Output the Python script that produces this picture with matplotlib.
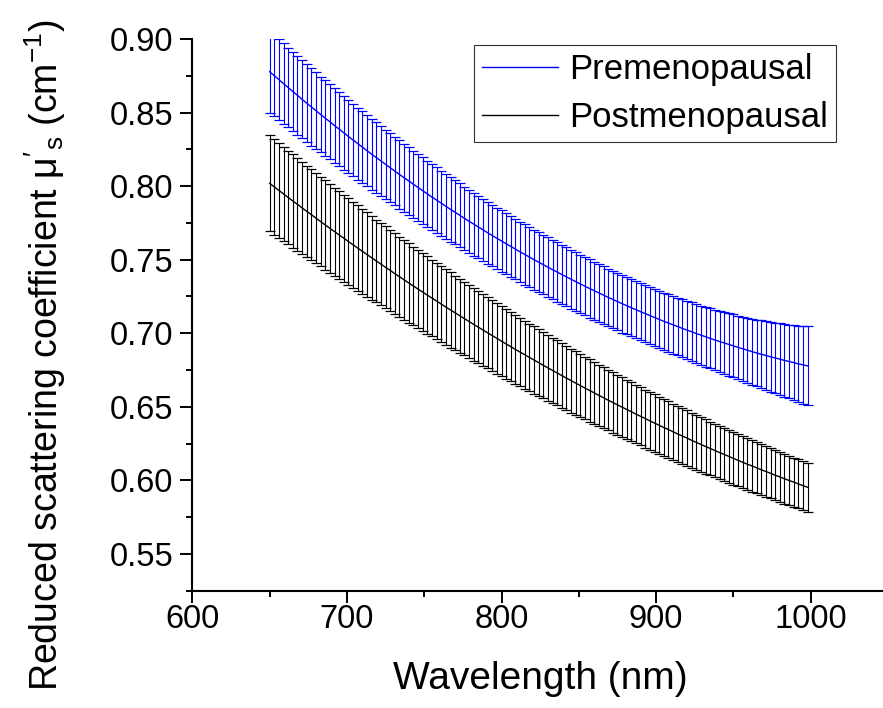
import numpy as np
import matplotlib
matplotlib.use("Agg")
import matplotlib.pyplot as plt

plt.rcParams['font.family'] = ['Liberation Sans', 'DejaVu Sans']
plt.rcParams['mathtext.fontset'] = 'custom'
plt.rcParams['mathtext.rm'] = 'Liberation Sans'
plt.rcParams['mathtext.it'] = 'Liberation Sans'
plt.rcParams['mathtext.default'] = 'regular'

# wavelengths, 650 to 998 nm every 3 nm
wavelength = np.arange(650, 1001, 3)

pre_mean = [
    0.8778, 0.8751, 0.8724, 0.8697, 0.8670, 0.8643, 0.8617, 0.8590, 0.8564, 0.8538,
    0.8513, 0.8487, 0.8462, 0.8437, 0.8411, 0.8387, 0.8362, 0.8337, 0.8313, 0.8289,
    0.8265, 0.8241, 0.8217, 0.8194, 0.8171, 0.8148, 0.8125, 0.8102, 0.8079, 0.8057,
    0.8035, 0.8013, 0.7991, 0.7969, 0.7947, 0.7926, 0.7905, 0.7884, 0.7863, 0.7842,
    0.7822, 0.7802, 0.7781, 0.7761, 0.7742, 0.7722, 0.7703, 0.7683, 0.7664, 0.7645,
    0.7627, 0.7608, 0.7590, 0.7572, 0.7553, 0.7536, 0.7518, 0.7500, 0.7483, 0.7466,
    0.7449, 0.7432, 0.7416, 0.7399, 0.7383, 0.7367, 0.7351, 0.7335, 0.7319, 0.7304,
    0.7289, 0.7274, 0.7259, 0.7244, 0.7230, 0.7215, 0.7201, 0.7187, 0.7173, 0.7160,
    0.7146, 0.7133, 0.7120, 0.7107, 0.7094, 0.7081, 0.7069, 0.7057, 0.7045, 0.7033,
    0.7021, 0.7010, 0.6998, 0.6987, 0.6976, 0.6965, 0.6954, 0.6944, 0.6934, 0.6924,
    0.6914, 0.6904, 0.6894, 0.6885, 0.6875, 0.6866, 0.6857, 0.6849, 0.6840, 0.6832,
    0.6824, 0.6815, 0.6808, 0.6800, 0.6792, 0.6785, 0.6778]

pre_err = [
    0.0279, 0.0277, 0.0275, 0.0273, 0.0271, 0.0269, 0.0267, 0.0266, 0.0264, 0.0262,
    0.0260, 0.0258, 0.0257, 0.0255, 0.0253, 0.0252, 0.0250, 0.0248, 0.0247, 0.0245,
    0.0244, 0.0242, 0.0241, 0.0239, 0.0238, 0.0236, 0.0235, 0.0233, 0.0232, 0.0231,
    0.0229, 0.0228, 0.0227, 0.0226, 0.0224, 0.0223, 0.0222, 0.0221, 0.0220, 0.0219,
    0.0218, 0.0217, 0.0216, 0.0215, 0.0214, 0.0213, 0.0212, 0.0211, 0.0210, 0.0209,
    0.0208, 0.0208, 0.0207, 0.0206, 0.0205, 0.0205, 0.0204, 0.0203, 0.0203, 0.0202,
    0.0202, 0.0201, 0.0201, 0.0200, 0.0200, 0.0199, 0.0199, 0.0198, 0.0198, 0.0198,
    0.0197, 0.0197, 0.0197, 0.0196, 0.0196, 0.0196, 0.0196, 0.0195, 0.0195, 0.0195,
    0.0195, 0.0195, 0.0195, 0.0195, 0.0195, 0.0195, 0.0195, 0.0196, 0.0196, 0.0197,
    0.0198, 0.0199, 0.0200, 0.0201, 0.0203, 0.0204, 0.0206, 0.0208, 0.0210, 0.0212,
    0.0214, 0.0216, 0.0219, 0.0221, 0.0224, 0.0227, 0.0230, 0.0233, 0.0237, 0.0240,
    0.0244, 0.0247, 0.0251, 0.0255, 0.0259, 0.0264, 0.0268]

post_mean = [
    0.8019, 0.7995, 0.7971, 0.7947, 0.7923, 0.7899, 0.7876, 0.7852, 0.7829, 0.7806,
    0.7782, 0.7759, 0.7736, 0.7713, 0.7691, 0.7668, 0.7646, 0.7623, 0.7601, 0.7579,
    0.7557, 0.7535, 0.7513, 0.7491, 0.7470, 0.7448, 0.7427, 0.7405, 0.7384, 0.7363,
    0.7342, 0.7321, 0.7300, 0.7280, 0.7259, 0.7239, 0.7219, 0.7198, 0.7178, 0.7158,
    0.7139, 0.7119, 0.7099, 0.7080, 0.7060, 0.7041, 0.7022, 0.7003, 0.6984, 0.6965,
    0.6946, 0.6927, 0.6909, 0.6890, 0.6872, 0.6854, 0.6836, 0.6818, 0.6800, 0.6782,
    0.6765, 0.6747, 0.6730, 0.6712, 0.6695, 0.6678, 0.6661, 0.6644, 0.6627, 0.6611,
    0.6594, 0.6578, 0.6561, 0.6545, 0.6529, 0.6513, 0.6497, 0.6482, 0.6466, 0.6450,
    0.6435, 0.6420, 0.6404, 0.6389, 0.6374, 0.6359, 0.6345, 0.6330, 0.6315, 0.6301,
    0.6287, 0.6272, 0.6258, 0.6244, 0.6230, 0.6217, 0.6203, 0.6189, 0.6176, 0.6163,
    0.6149, 0.6136, 0.6123, 0.6110, 0.6098, 0.6085, 0.6072, 0.6060, 0.6048, 0.6035,
    0.6023, 0.6011, 0.5999, 0.5988, 0.5976, 0.5964, 0.5953]

post_err = [
    0.0327, 0.0325, 0.0323, 0.0321, 0.0319, 0.0317, 0.0315, 0.0313, 0.0311, 0.0309,
    0.0307, 0.0305, 0.0303, 0.0301, 0.0299, 0.0297, 0.0295, 0.0293, 0.0291, 0.0290,
    0.0288, 0.0286, 0.0284, 0.0282, 0.0280, 0.0279, 0.0277, 0.0275, 0.0273, 0.0272,
    0.0270, 0.0268, 0.0266, 0.0265, 0.0263, 0.0261, 0.0260, 0.0258, 0.0256, 0.0255,
    0.0253, 0.0252, 0.0250, 0.0248, 0.0247, 0.0245, 0.0244, 0.0242, 0.0241, 0.0239,
    0.0238, 0.0236, 0.0235, 0.0233, 0.0232, 0.0230, 0.0229, 0.0228, 0.0226, 0.0225,
    0.0223, 0.0222, 0.0221, 0.0219, 0.0218, 0.0217, 0.0215, 0.0214, 0.0213, 0.0211,
    0.0210, 0.0209, 0.0208, 0.0206, 0.0205, 0.0204, 0.0203, 0.0202, 0.0201, 0.0199,
    0.0198, 0.0197, 0.0196, 0.0195, 0.0194, 0.0193, 0.0192, 0.0191, 0.0190, 0.0189,
    0.0188, 0.0187, 0.0186, 0.0185, 0.0184, 0.0183, 0.0182, 0.0181, 0.0180, 0.0179,
    0.0178, 0.0177, 0.0176, 0.0175, 0.0174, 0.0174, 0.0173, 0.0172, 0.0171, 0.0170,
    0.0170, 0.0169, 0.0168, 0.0167, 0.0167, 0.0166, 0.0165]

fig = plt.figure(figsize=(8.83, 7.08), dpi=100)
ax = fig.add_axes([0.2178, 0.1657, 0.7879, 0.7792])

ax.errorbar(wavelength, pre_mean, yerr=pre_err, fmt='none', ecolor='#0000ff',
            elinewidth=0.8, capsize=3.6, capthick=0.9)
ax.plot(wavelength, pre_mean, color='#0000ff', lw=1.0, label='Premenopausal')
ax.errorbar(wavelength, post_mean, yerr=post_err, fmt='none', ecolor='black',
            elinewidth=0.8, capsize=3.6, capthick=0.9)
ax.plot(wavelength, post_mean, color='black', lw=1.0, label='Postmenopausal')

ax.set_xlim(600, 1050)
ax.set_ylim(0.525, 0.90)
ax.set_xticks([600, 700, 800, 900, 1000])
ax.set_xticks(np.arange(650, 1051, 100), minor=True)
ax.set_yticks(np.arange(0.55, 0.901, 0.05))
ax.set_yticks(np.arange(0.525, 0.90, 0.05), minor=True)
ax.set_yticklabels(['%.2f' % v for v in np.arange(0.55, 0.901, 0.05)])

for side in ['top', 'right']:
    ax.spines[side].set_visible(False)
for side in ['left', 'bottom']:
    ax.spines[side].set_linewidth(1.5)
ax.tick_params(which='major', direction='out', length=8.6, width=1.4, labelsize=23.5)
ax.tick_params(which='minor', direction='out', length=4.6, width=1.4)
ax.tick_params(axis='y', which='major', pad=5)
ax.tick_params(axis='x', which='major', pad=1)

ax.set_xlabel('Wavelength (nm)', fontsize=28)
ax.xaxis.set_label_coords(0.5, -0.127)
ax.xaxis.label.set_va('top')
ax.set_ylabel(r"Reduced scattering coefficient $\mu'_s$ (cm$^{-1}$)", fontsize=27)
ax.yaxis.set_label_coords(-0.178, 0.427)

leg = ax.legend(loc='upper right', bbox_to_anchor=(0.925, 0.989), borderaxespad=0,
                fontsize=25, frameon=True, fancybox=False, edgecolor='black',
                handlelength=2.2, handletextpad=0.32, labelspacing=0.45,
                borderpad=0.22)
leg.get_frame().set_linewidth(0.8)

fig.savefig('out.png', dpi=100)
